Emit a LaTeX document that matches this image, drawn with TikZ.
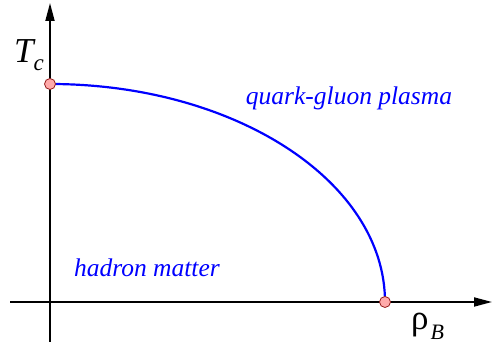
\documentclass[tikz,border=0pt]{standalone}
\usepackage{fontspec}
\setmainfont{Liberation Serif}
\newfontfamily\labelfont{Liberation Serif}
\usepackage{tikz}
\usetikzlibrary{arrows.meta}
\definecolor{phaseblue}{RGB}{0, 0, 255}
\definecolor{dotpink}{RGB}{255, 170, 170}
\definecolor{dotred}{RGB}{150, 30, 30}

\begin{document}
\begin{tikzpicture}[
    x=1pt, y=1pt,
    axis/.style={line width=1.8pt, black, -{Triangle[length=18pt, width=9pt]}},
    line/.style={line width=2.2pt, phaseblue},
    dot/.style={circle, draw=dotred, fill=dotpink, line width=0.8pt,
                minimum size=11pt, inner sep=0pt},
    region/.style={font=\labelfont\fontsize{25.5}{28}\selectfont\itshape, text=phaseblue,
                   inner sep=0pt, anchor=base},
    lbl/.style={font=\labelfont, inner sep=0pt, anchor=base west}
]
\useasboundingbox (0,0) rectangle (493,350);

% Axes
\coordinate (ybot) at (50,8);
\coordinate (ytop) at (50,347);
\coordinate (xleft) at (10,48);
\coordinate (xright) at (492,48);
\draw[axis] (ybot) -- (ytop);
\draw[axis] (xleft) -- (xright);

% Critical points
\coordinate (tc) at (50,266);
\coordinate (rhob) at (385,48);

% Phase boundary
\draw[line] (tc) arc[start angle=90, end angle=0, x radius=335, y radius=218];
\node[dot] (tcdot) at (tc) {};
\node[dot] (rhobdot) at (rhob) {};

% Axis labels
\node[lbl] (tclbl) at (14,287)
  {\fontsize{35}{40}\selectfont\itshape T\raisebox{-8pt}{\fontsize{23}{24}\selectfont c}};
\node[lbl] (rholbl) at (411,20)
  {\fontsize{35}{40}\selectfont ρ\kern2pt\raisebox{-10pt}{\fontsize{22}{24}\selectfont\itshape B}};

% Regions
\node[region] (qgp) at (349,245) {quark-gluon plasma};
\node[region] (hadron) at (147,73) {hadron matter};

\end{tikzpicture}
\end{document}
